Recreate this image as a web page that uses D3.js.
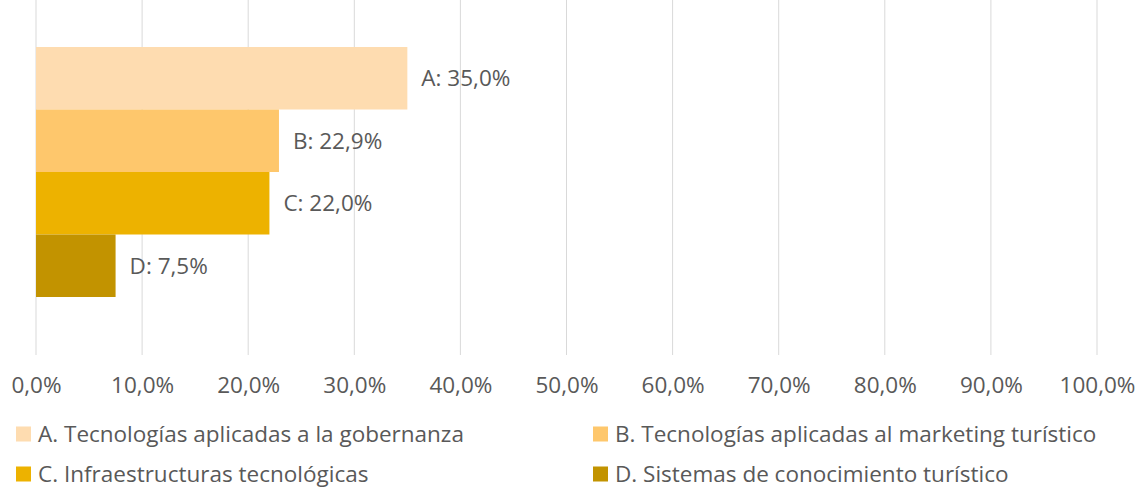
<!DOCTYPE html>
<html>
<head>
<meta charset="utf-8">
<script src="https://cdn.jsdelivr.net/npm/d3@7"></script>
<style>
  body { margin: 0; background: #fff; }
  text { font-family: "Open Sans", sans-serif; fill: #595959; }
</style>
</head>
<body>
<div class="chart"></div>
<script>
// data
var seriesKeys = ["A", "B", "C", "D"];
var seriesNames = [
    "A. Tecnologías aplicadas a la gobernanza",
    "B. Tecnologías aplicadas al marketing turístico",
    "C. Infraestructuras tecnológicas",
    "D. Sistemas de conocimiento turístico"
];
var seriesValues = [35.0, 22.9, 22.0, 7.5];
var seriesColors = ["#fedcb0", "#fec76c", "#edb200", "#c29300"];
var xTicks = [0, 10, 20, 30, 40, 50, 60, 70, 80, 90, 100];

var svgWidth = 1138;
var svgHeight = 489;
var fontSize = 22.5;

var svg = d3.select(".chart")
    .append("svg")
    .attr("width", svgWidth)
    .attr("height", svgHeight);

var xScale = d3.scaleLinear()
    .domain([0, 100])
    .range([36, 1097]);

var yScale = d3.scaleBand()
    .domain(seriesKeys)
    .range([47, 297])
    .padding(0);

var fmt = function(v) {
    return v.toFixed(1).replace(".", ",") + "%";
};

// gridlines
svg.append("g")
    .selectAll("line")
    .data(xTicks)
    .enter()
    .append("line")
    .attr("x1", function(d) { return xScale(d); })
    .attr("x2", function(d) { return xScale(d); })
    .attr("y1", 0)
    .attr("y2", 355)
    .attr("stroke", "#d9d9d9")
    .attr("stroke-width", 1);

// x axis labels
var bottomAxis = d3.axisBottom(xScale)
    .tickValues(xTicks)
    .tickSize(0)
    .tickPadding(0)
    .tickFormat(fmt);

var axisG = svg.append("g")
    .attr("transform", "translate(0, 385)")
    .call(bottomAxis);
axisG.select(".domain").remove();
axisG.selectAll("text")
    .attr("font-size", fontSize)
    .attr("dy", "0.35em")
    .style("font-family", "'Open Sans', sans-serif")
    .style("fill", "#595959");

// bars
svg.append("g")
    .selectAll("rect")
    .data(seriesKeys)
    .enter()
    .append("rect")
    .attr("x", xScale(0))
    .attr("y", function(d) { return yScale(d); })
    .attr("width", function(d, i) { return xScale(seriesValues[i]) - xScale(0); })
    .attr("height", yScale.bandwidth())
    .attr("fill", function(d, i) { return seriesColors[i]; });

// value labels
svg.append("g")
    .selectAll("text")
    .data(seriesKeys)
    .enter()
    .append("text")
    .attr("x", function(d, i) { return xScale(seriesValues[i]) + 14; })
    .attr("y", function(d) { return yScale(d) + yScale.bandwidth() / 2; })
    .attr("dy", "0.35em")
    .attr("font-size", fontSize)
    .text(function(d, i) { return d + ": " + fmt(seriesValues[i]); });

// legend
var legendPos = [[16, 434], [593, 434], [16, 474], [593, 474]];

var legend = svg.append("g")
    .selectAll("g")
    .data(seriesNames)
    .enter()
    .append("g")
    .attr("transform", function(d, i) {
        return "translate(" + legendPos[i][0] + "," + legendPos[i][1] + ")";
    });

legend.append("rect")
    .attr("x", 0)
    .attr("y", -7.5)
    .attr("width", 15)
    .attr("height", 15)
    .attr("fill", function(d, i) { return seriesColors[i]; });

legend.append("text")
    .attr("x", 22)
    .attr("y", 0)
    .attr("dy", "0.35em")
    .attr("font-size", fontSize)
    .text(function(d) { return d; });
</script>
</body>
</html>
